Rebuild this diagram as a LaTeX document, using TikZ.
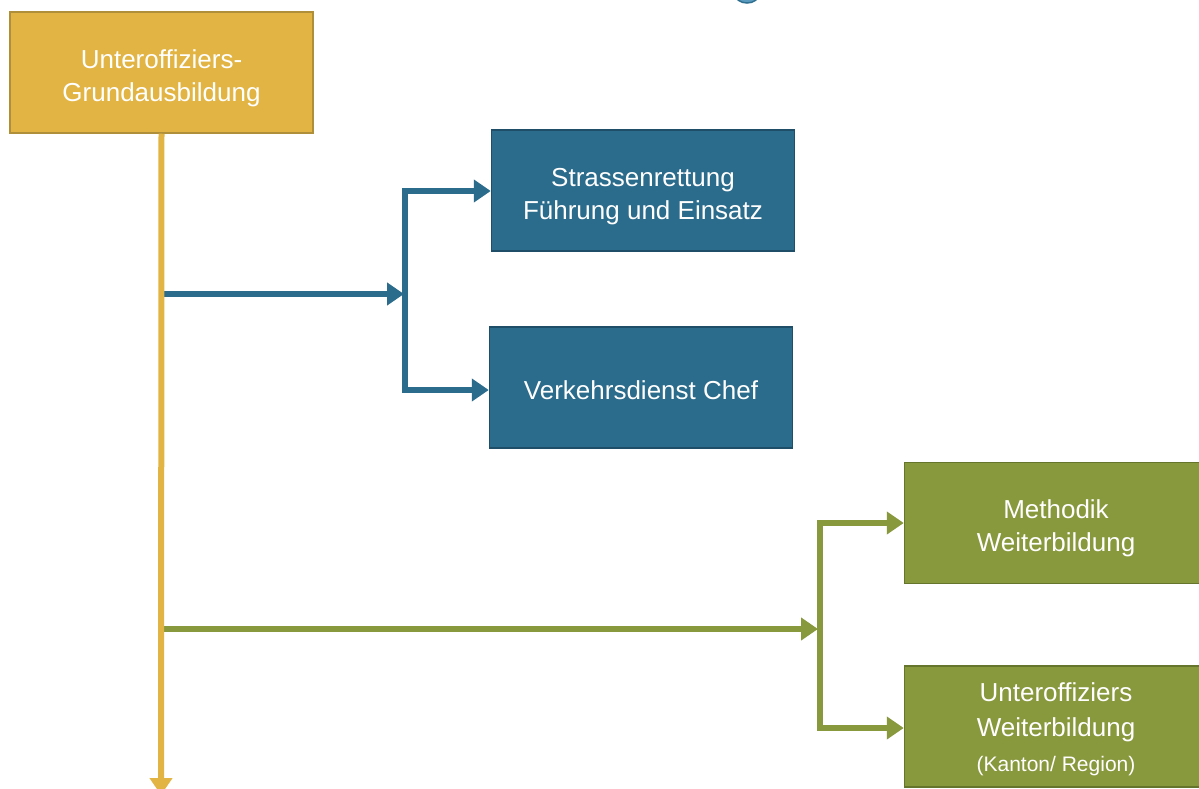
\documentclass[tikz,border=0pt]{standalone}
\usepackage{fontspec}
\setmainfont{Liberation Sans}
\usetikzlibrary{arrows.meta}
\definecolor{yel}{HTML}{E2B444}
\definecolor{yelb}{HTML}{B08F3A}
\definecolor{blu}{HTML}{2B6B8B}
\definecolor{blub}{HTML}{1F4F68}
\definecolor{grn}{HTML}{88983D}
\definecolor{grnb}{HTML}{66752C}
\definecolor{ttl}{HTML}{5B9BC0}
\definecolor{ttlb}{HTML}{2F6F90}
\tikzset{
  box/.style={rectangle, line width=1.5pt, minimum width=303pt, minimum height=121pt,
    inner sep=0pt},
  ybox/.style={box, fill=yel, draw=yelb},
  bbox/.style={box, fill=blu, draw=blub},
  gbox/.style={box, fill=grn, draw=grnb},
  label text/.style={inner sep=0pt, align=center, text=white, font=\fontsize{26}{33}\selectfont},
  conn/.style={line width=6pt},
  tip/.style={-{Triangle[length=17pt,width=22pt]}},
}
\begin{document}
\begin{tikzpicture}[x=1pt,y=1pt]
\useasboundingbox (0,0) rectangle (1199,-789);
\clip (0,0) rectangle (1199,-789);
% partial title glyph at top
\draw[ttlb, fill=ttl, line width=1.5pt] (735,6) arc[start angle=180,end angle=360,x radius=12,y radius=9];
% boxes
\node[ybox] (ua) at (161.5,-72.5) {};
\node[label text] (uat) at ([yshift=-6pt]ua.center) {Unteroffiziers-\\Grundausbildung};
\node[bbox] (sr) at (643,-190.5) {};
\node[label text] (srt) at ([yshift=-6pt]sr.center) {Strassenrettung\\Führung und Einsatz};
\node[bbox] (vc) at (641,-387.5) {};
\node[label text] (vct) at ([yshift=-3pt]vc.center) {Verkehrsdienst Chef};
\node[gbox] (mw) at (1056,-523) {};
\node[label text] (mwt) at ([yshift=-5pt]mw.center) {Methodik\\Weiterbildung};
\node[gbox] (uw) at (1056,-726.5) {};
\node[label text, font=\fontsize{26}{35}\selectfont] (uwt) at ([yshift=-3pt]uw.center)
  {Unteroffiziers\\Weiterbildung\\{\fontsize{21}{26}\selectfont (Kanton/ Region)}};
% coordinates
\coordinate (yend) at (161,-795);
\coordinate (bs) at (161,-294);
\coordinate (bj) at (404,-294);
\coordinate (bt) at (405,-191);
\coordinate (bb) at (405,-390);
\coordinate (gs) at (161,-629);
\coordinate (gj) at (818,-629);
\coordinate (gt) at (820,-523);
\coordinate (gb) at (820,-728);
% blue connectors
\draw[conn, blu, tip] (bs) -- (bj);
\draw[conn, blu, line cap=rect] (bt) -- (bb);
\draw[conn, blu, tip] (bt) -- (bt -| sr.west);
\draw[conn, blu, tip] (bb) -- (bb -| vc.west);
% green connectors
\draw[conn, grn, tip] (gs) -- (gj);
\draw[conn, grn, line cap=rect] (gt) -- (gb);
\draw[conn, grn, tip] (gt) -- (gt -| mw.west);
\draw[conn, grn, tip] (gb) -- (gb -| uw.west);
% main yellow line
\draw[conn, yel, tip] (ua.south) -- (yend);
\end{tikzpicture}
\end{document}
